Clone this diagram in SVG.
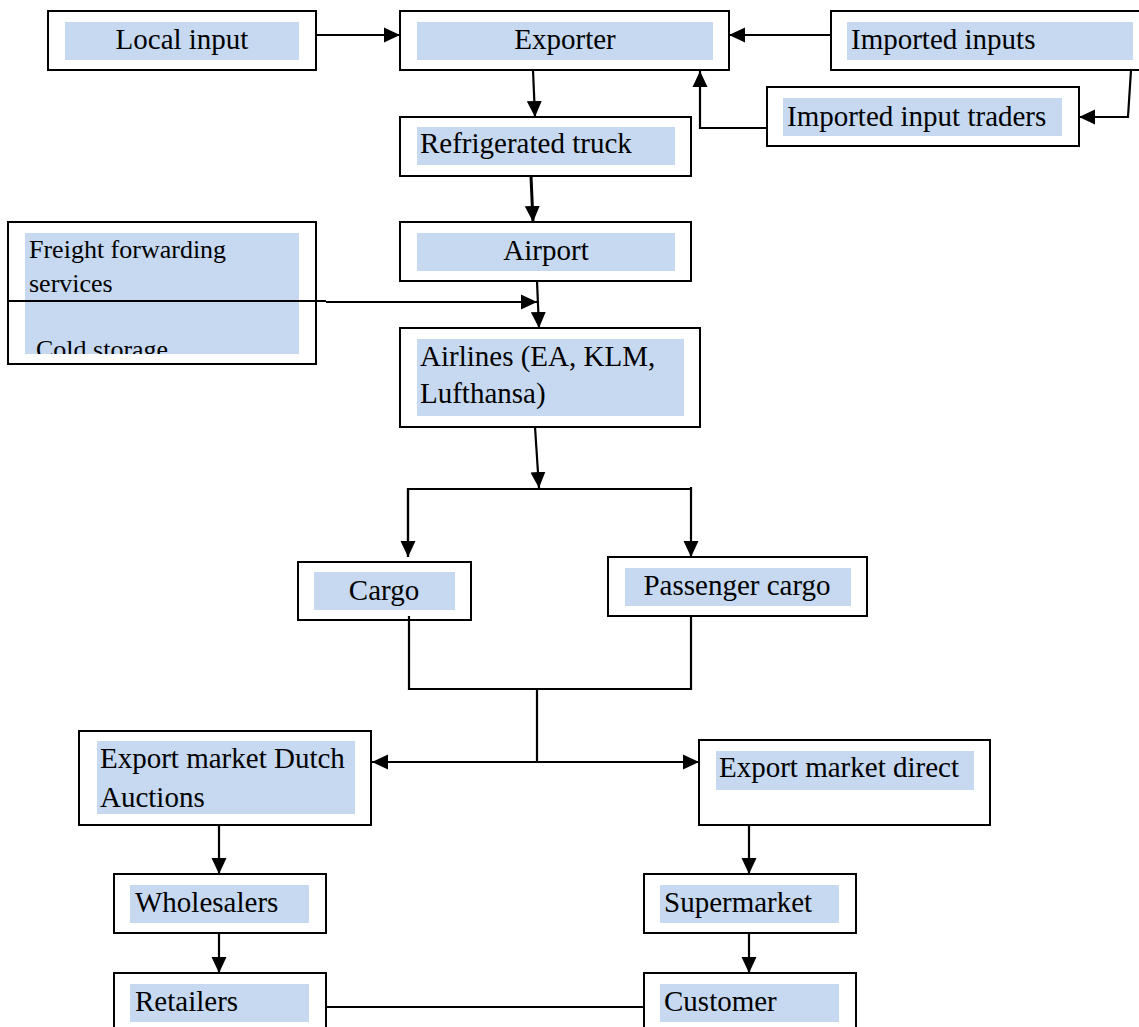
<svg xmlns="http://www.w3.org/2000/svg" width="1139" height="1027" viewBox="0 0 1139 1027">
<style>
.box{fill:#fff;stroke:#000;stroke-width:2}
.hl{fill:#c6d9f1}
.t{font-family:"Liberation Serif","Times New Roman",serif;font-size:29px;fill:#000}
.ts{font-family:"Liberation Serif","Times New Roman",serif;font-size:26px;fill:#000}
.c{text-anchor:middle}
.ln{fill:none;stroke:#000;stroke-width:2.2}
.arr{marker-end:url(#ah)}
</style>
<defs>
<marker id="ah" markerUnits="userSpaceOnUse" markerWidth="16" markerHeight="16" refX="16" refY="8" orient="auto">
<path d="M0,0.5 L16,8 L0,15.5 z" fill="#000"/>
</marker>
<clipPath id="ffclip"><rect x="25" y="233" width="274" height="121"/></clipPath>
</defs>
<rect width="1139" height="1027" fill="#fff"/>

<g id="local-input">
<rect class="box" x="48" y="11" width="268" height="59"/>
<rect class="hl" x="65" y="22" width="234" height="38"/>
<text class="t c" x="182" y="49">Local input</text>
</g>
<g id="exporter">
<rect class="box" x="400" y="11" width="329" height="59"/>
<rect class="hl" x="417" y="22" width="296" height="38"/>
<text class="t c" x="565" y="49">Exporter</text>
</g>
<g id="imported-inputs">
<rect class="box" x="831" y="11" width="310" height="59"/>
<rect class="hl" x="847" y="22" width="286" height="38"/>
<text class="t" x="851" y="49">Imported inputs</text>
</g>
<g id="imported-input-traders">
<rect class="box" x="767" y="87" width="312" height="59"/>
<rect class="hl" x="783" y="98" width="279" height="38"/>
<text class="t" x="787" y="126">Imported input traders</text>
</g>
<g id="refrigerated-truck">
<rect class="box" x="400" y="117" width="291" height="59"/>
<rect class="hl" x="417" y="127" width="258" height="38"/>
<text class="t" x="420" y="153">Refrigerated truck</text>
</g>
<g id="airport">
<rect class="box" x="400" y="222" width="291" height="59"/>
<rect class="hl" x="417" y="233" width="258" height="38"/>
<text class="t c" x="546" y="260">Airport</text>
</g>
<g id="freight-forwarding">
<rect class="box" x="8" y="222" width="308" height="142"/>
<rect class="hl" x="25" y="233" width="274" height="121"/>
<text class="ts" x="29" y="258">Freight forwarding</text>
<text class="ts" x="29" y="292">services</text>
<text class="ts" x="36" y="358" clip-path="url(#ffclip)">Cold storage</text>
</g>
<g id="airlines">
<rect class="box" x="400" y="328" width="300" height="99"/>
<rect class="hl" x="417" y="339" width="267" height="77"/>
<text class="t" x="420" y="366">Airlines (EA, KLM,</text>
<text class="t" x="420" y="403">Lufthansa)</text>
</g>
<g id="cargo">
<rect class="box" x="298" y="562" width="173" height="58"/>
<rect class="hl" x="314" y="572" width="141" height="38"/>
<text class="t c" x="384" y="600">Cargo</text>
</g>
<g id="passenger-cargo">
<rect class="box" x="608" y="557" width="259" height="59"/>
<rect class="hl" x="625" y="568" width="226" height="38"/>
<text class="t c" x="737" y="595">Passenger cargo</text>
</g>
<g id="export-market-dutch">
<rect class="box" x="79" y="731" width="292" height="94"/>
<rect class="hl" x="97" y="741" width="258" height="73"/>
<text class="t" x="100" y="768">Export market Dutch</text>
<text class="t" x="100" y="807">Auctions</text>
</g>
<g id="export-market-direct">
<rect class="box" x="699" y="740" width="291" height="85"/>
<rect class="hl" x="716" y="751" width="258" height="39"/>
<text class="t" x="719" y="777">Export market direct</text>
</g>
<g id="wholesalers">
<rect class="box" x="114" y="874" width="212" height="59"/>
<rect class="hl" x="130" y="885" width="179" height="38"/>
<text class="t" x="135" y="912">Wholesalers</text>
</g>
<g id="supermarket">
<rect class="box" x="644" y="874" width="212" height="59"/>
<rect class="hl" x="660" y="885" width="179" height="38"/>
<text class="t" x="664" y="912">Supermarket</text>
</g>
<g id="retailers">
<rect class="box" x="114" y="973" width="212" height="60"/>
<rect class="hl" x="130" y="984" width="179" height="38"/>
<text class="t" x="135" y="1011">Retailers</text>
</g>
<g id="customer">
<rect class="box" x="644" y="973" width="212" height="60"/>
<rect class="hl" x="660" y="984" width="179" height="38"/>
<text class="t" x="664" y="1011">Customer</text>
</g>

<g id="connectors">
<line class="ln arr" x1="316" y1="35" x2="400" y2="35"/>
<line class="ln arr" x1="831" y1="35" x2="729" y2="35"/>
<polyline class="ln arr" points="1131,70 1128,117 1079,117"/>
<polyline class="ln arr" points="767,128 700,128 700,71"/>
<line class="ln arr" x1="533" y1="70" x2="535" y2="117"/>
<line class="ln arr" x1="531" y1="176" x2="533" y2="222" style="stroke-width:3"/>
<polyline class="ln" points="7,301 326,301"/>
<line class="ln arr" x1="326" y1="302" x2="537" y2="302"/>
<line class="ln arr" x1="537" y1="281" x2="539" y2="328"/>
<line class="ln arr" x1="535" y1="427" x2="539" y2="488"/>
<polyline class="ln" points="408,557 408,489 691,489 691,487"/>
<line class="ln arr" x1="408" y1="489" x2="408" y2="557"/>
<line class="ln arr" x1="691" y1="489" x2="691" y2="557"/>
<polyline class="ln" points="409,616 409,689 691,689 691,616"/>
<line class="ln" x1="537" y1="689" x2="537" y2="762"/>
<line class="ln arr" x1="537" y1="762" x2="372" y2="762"/>
<line class="ln arr" x1="537" y1="762" x2="699" y2="762"/>
<line class="ln arr" x1="219" y1="825" x2="219" y2="874"/>
<line class="ln arr" x1="219" y1="933" x2="219" y2="973"/>
<line class="ln arr" x1="749" y1="825" x2="749" y2="874"/>
<line class="ln arr" x1="749" y1="933" x2="749" y2="973"/>
<line class="ln" x1="326" y1="1007" x2="644" y2="1007"/>
</g>
</svg>
